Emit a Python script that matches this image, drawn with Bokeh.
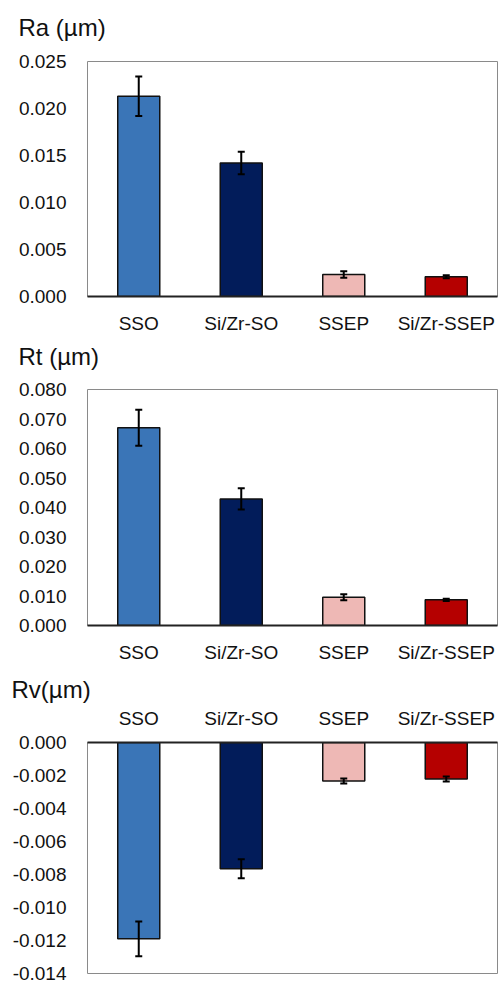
from bokeh.plotting import figure
from bokeh.layouts import column
from bokeh.models import Range1d, FixedTicker, NumeralTickFormatter, Title
from bokeh.embed import file_html
from bokeh.resources import INLINE

categories = ["SSO", "Si/Zr-SO", "SSEP", "Si/Zr-SSEP"]
colors = ["#3A75B7", "#021C5A", "#EEB8B5", "#B50000"]

ra_values = [0.0213, 0.0142, 0.00234, 0.0021]
ra_errors = [0.0021, 0.0012, 0.00035, 0.00015]
ra_ticks = [0.0, 0.005, 0.010, 0.015, 0.020, 0.025]

rt_values = [0.0670, 0.0429, 0.0096, 0.0087]
rt_errors = [0.0061, 0.0036, 0.0010, 0.0004]
rt_ticks = [0.0, 0.01, 0.02, 0.03, 0.04, 0.05, 0.06, 0.07, 0.08]

rv_values = [-0.0119, -0.00765, -0.00233, -0.00221]
rv_errors = [0.00105, 0.00057, 0.00015, 0.00015]
rv_ticks = [-0.014, -0.012, -0.010, -0.008, -0.006, -0.004, -0.002, 0.0]

FONT = "Liberation Sans"


def panel(title, values, errors, ticks, ymin, ymax, height, bl, bt, bb, br,
          negative=False, title_standoff=0, title_x=14, gap=0, label_standoff=10):
    p = figure(x_range=categories, y_range=Range1d(ymin, ymax), width=498,
               height=height, output_backend="svg", toolbar_location=None,
               x_axis_location="above" if negative else "below",
               min_border_left=bl, min_border_top=bt, min_border_bottom=bb,
               min_border_right=br)
    p.outline_line_color = "#8a8a8a"
    p.outline_line_width = 1
    p.xgrid.grid_line_color = None
    p.ygrid.grid_line_color = None
    p.background_fill_color = "white"
    p.border_fill_color = "white"

    if negative:
        p.vbar(x=categories, top=0, bottom=values, width=0.41,
               fill_color=colors, line_color="#111111", line_width=1.5)
    else:
        p.vbar(x=categories, top=values, bottom=0, width=0.41,
               fill_color=colors, line_color="#111111", line_width=1.5)

    upper = [v + e for v, e in zip(values, errors)]
    lower = [v - e for v, e in zip(values, errors)]
    p.segment(x0=categories, x1=categories, y0=lower, y1=upper,
              line_color="black", line_width=2)
    p.scatter(x=categories, y=upper, marker="dash", size=7,
              line_color="black", line_width=2)
    p.scatter(x=categories, y=lower, marker="dash", size=7,
              line_color="black", line_width=2)

    xa = p.xaxis[0]
    xa.major_tick_line_color = None
    xa.minor_tick_line_color = None
    xa.axis_line_color = "#222222"
    xa.axis_line_width = 2
    xa.major_label_text_font = FONT
    xa.major_label_text_font_size = "19px"
    xa.major_label_text_color = "#111111"
    xa.major_label_standoff = label_standoff

    ya = p.yaxis[0]
    ya.ticker = FixedTicker(ticks=ticks)
    ya.formatter = NumeralTickFormatter(format="0.000")
    ya.major_tick_line_color = None
    ya.minor_tick_line_color = None
    ya.axis_line_color = None
    ya.major_label_text_font = FONT
    ya.major_label_text_font_size = "19px"
    ya.major_label_text_color = "#111111"
    ya.major_label_standoff = 15

    if gap > 0:
        # invisible (white) spacer between the frame and the title
        spacer = Title(text=".", text_font_size="6px", standoff=gap,
                       text_color="white", align="right")
        p.add_layout(spacer, "above")
    t = Title(text=title, align="left", offset=title_x - bl,
              vertical_align="bottom",
              text_font=FONT, text_font_size="24px", text_font_style="normal",
              text_color="#111111", standoff=title_standoff)
    p.add_layout(t, "above")
    return p


p1 = panel("Ra (µm)", ra_values, ra_errors, ra_ticks, 0, 0.025,
           338, 83, 61, 42, 1, title_standoff=0, title_x=14, gap=15,
           label_standoff=10)
p2 = panel("Rt (µm)", rt_values, rt_errors, rt_ticks, 0, 0.08,
           327, 83, 51, 40, 1, title_standoff=0, title_x=14, gap=14,
           label_standoff=10)
p3 = panel("Rv(µm)", rv_values, rv_errors, rv_ticks, -0.014, 0,
           317, 87, 77, 9, 1, negative=True, title_standoff=4, title_x=11,
           gap=0, label_standoff=8)

layout = column(p1, p2, p3, spacing=0)
open("out.html", "w").write(file_html(layout, INLINE))
